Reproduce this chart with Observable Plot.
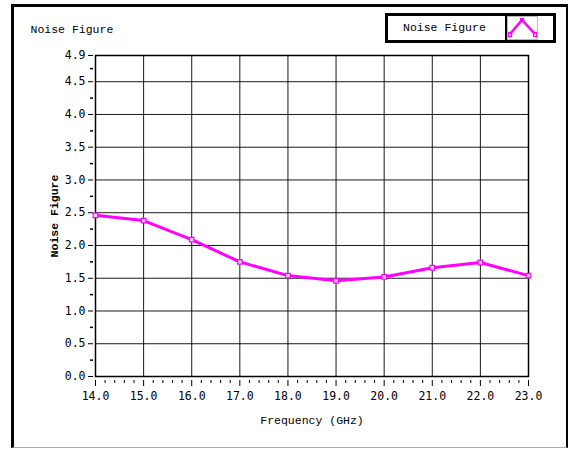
<!DOCTYPE html>
<html>
<head>
<meta charset="utf-8">
<script src="https://cdn.jsdelivr.net/npm/d3@7"></script>
<script src="https://cdn.jsdelivr.net/npm/@observablehq/plot@0.6"></script>
<style>
  html, body { margin: 0; padding: 0; background: #fff; }
  #wrap { position: relative; width: 569px; height: 449px; overflow: hidden; }
  #chart { position: absolute; left: 0; top: 0; }
  #outer { position: absolute; left: 11px; top: 4px; width: 557px; height: 444px; box-sizing: border-box;
           border-left: 3px solid #000; border-top: 3px solid #000; border-right: 2px solid #000;
           border-bottom: 1px solid #aaa; pointer-events: none; }
  #legend { position: absolute; left: 385px; top: 13px; width: 171px; height: 30px; box-sizing: border-box;
            border: 3px solid #000; display: flex; background: #fff; }
  #legend .lab { width: 119px; box-sizing: border-box; border-right: 2px solid #000; padding-left: 15px;
                 font-family: "Liberation Mono", monospace; font-size: 11.5px; line-height: 24px; color: #000; }
  #legend .sw { width: 31px; margin: 0; box-sizing: border-box; border: 1px solid #bbb; height: 24px; }
</style>
</head>
<body>
<div id="wrap">
  <div id="chart"></div>
  <div id="outer"></div>
  <div id="legend">
    <div class="lab">Noise Figure</div>
    <div class="sw">
      <svg width="29" height="22" viewBox="0 0 29 22">
        <polyline points="2,17 14,3 27,17" fill="none" stroke="#ff00ff" stroke-width="2.5"/>
        <rect x="0.5" y="15.5" width="3" height="4" fill="none" stroke="#ff00ff" stroke-width="1.2"/>
        <rect x="12.5" y="1.5" width="3" height="3" fill="none" stroke="#ff00ff" stroke-width="1.2"/>
        <rect x="25.5" y="15.5" width="3" height="4" fill="none" stroke="#ff00ff" stroke-width="1.2"/>
      </svg>
    </div>
  </div>
</div>
<script>
// ---- data ----
const frequencies = [14, 15, 16, 17, 18, 19, 20, 21, 22, 23];
const noiseFigure = [2.46, 2.38, 2.09, 1.75, 1.54, 1.46, 1.52, 1.66, 1.74, 1.54];

// ---- ticks ----
const xMajorTicks = [14, 15, 16, 17, 18, 19, 20, 21, 22, 23];
const xGridLines = [15, 16, 17, 18, 19, 20, 21, 22];
const yMajorTicks = [0, 0.5, 1.0, 1.5, 2.0, 2.5, 3.0, 3.5, 4.0, 4.5, 4.9];
const yGridLines = [0.5, 1.0, 1.5, 2.0, 2.5, 3.0, 3.5, 4.0, 4.5];
const yMinorTicks = [0.25, 0.75, 1.25, 1.75, 2.25, 2.75, 3.25, 3.75, 4.25, 4.7];
const xMinorTicks = d3.range(14, 23.001, 0.2).filter(v => Math.abs(v - Math.round(v)) > 1e-6);

const titleText = "Noise Figure";
const xLabelText = "Frequency (GHz)";
const yLabelText = "Noise Figure";

const data = frequencies.map((f, i) => ({f, nf: noiseFigure[i]}));
const magenta = "#ff00ff";

const chart = Plot.plot({
  width: 569,
  height: 449,
  marginLeft: 95,
  marginRight: 41,
  marginTop: 55,
  marginBottom: 73,
  style: {fontFamily: "Liberation Mono, monospace", fontSize: "11.5px", color: "#000", background: "transparent", overflow: "visible"},
  x: {domain: [14, 23], label: null},
  y: {domain: [0, 4.9], label: null},
  marks: [
    Plot.gridX(xGridLines, {stroke: "#000", strokeOpacity: 0.9, strokeWidth: 1}),
    Plot.gridY(yGridLines, {stroke: "#000", strokeOpacity: 0.9, strokeWidth: 1}),
    Plot.frame({stroke: "#000", strokeWidth: 1.5}),
    Plot.axisX(xMajorTicks, {tickSize: 6, tickPadding: 5, dy: 4, tickFormat: d => d.toFixed(1), label: null, fontFamily: "DejaVu Sans Mono, monospace", fontSize: 11.5}),
    Plot.axisX(xMinorTicks, {tickSize: 3, dy: 4, tickFormat: () => "", label: null}),
    Plot.axisY(yMajorTicks, {tickSize: 5, tickPadding: 3, dx: -2, tickFormat: d => d.toFixed(1), label: null, fontFamily: "DejaVu Sans Mono, monospace", fontSize: 11.5}),
    Plot.axisY(yMinorTicks, {tickSize: 3, dx: -2, tickFormat: () => "", label: null, strokeWidth: 1.5}),
    Plot.line(data, {x: "f", y: "nf", stroke: magenta, strokeWidth: 3, curve: "linear"}),
    Plot.dot(data, {x: "f", y: "nf", symbol: "square", r: 2.6, stroke: magenta, strokeWidth: 1.2, fill: "#ffc8ff"}),
    Plot.text([titleText], {frameAnchor: "top-left", dx: -65, dy: -26, textAnchor: "start", lineAnchor: "middle", fontSize: 11.5}),
    Plot.text([xLabelText], {frameAnchor: "bottom", dy: 44, textAnchor: "middle", lineAnchor: "middle", fontSize: 11.5}),
    Plot.text([yLabelText], {frameAnchor: "left", dx: -41, rotate: -90, textAnchor: "middle", lineAnchor: "middle", fontSize: 11.5, fontWeight: "bold"})
  ]
});
document.getElementById("chart").appendChild(chart);
</script>
</body>
</html>
